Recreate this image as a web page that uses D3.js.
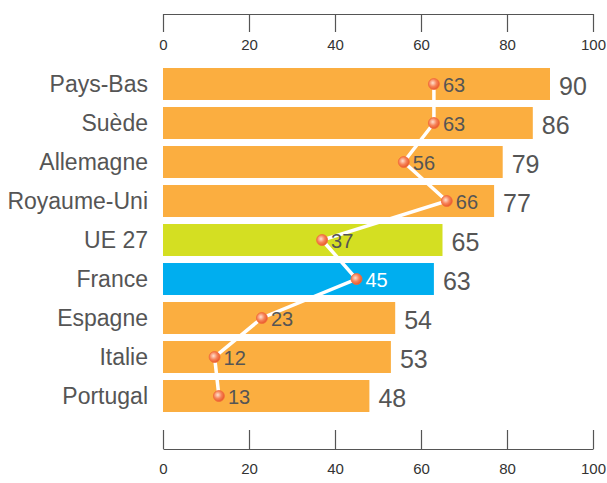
<!DOCTYPE html>
<html>
<head>
<meta charset="utf-8">
<script src="https://cdn.jsdelivr.net/npm/d3@7"></script>
<style>
  body { margin: 0; background: #fff; }
  text { font-family: "Liberation Sans Narrow", "Liberation Sans", sans-serif; }
</style>
</head>
<body>
<svg id="chart" width="607" height="483"></svg>
<script>
// Data
const countries = ['Pays-Bas', 'Suède', 'Allemagne', 'Royaume-Uni', 'UE 27', 'France', 'Espagne', 'Italie', 'Portugal'];
const barValues = [90, 86, 79, 77, 65, 63, 54, 53, 48];
const lineValues = [63, 63, 56, 66, 37, 45, 23, 12, 13];
const barColors = ['#FBAE40', '#FBAE40', '#FBAE40', '#FBAE40', '#D4DF22', '#00AEEF', '#FBAE40', '#FBAE40', '#FBAE40'];
const ticks = [0, 20, 40, 60, 80, 100];

const svg = d3.select('#chart');

const x = d3.scaleLinear().domain([0, 100]).range([163, 593]);
const y = d3.scaleBand().domain(countries).range([64.5, 415.5])
    .paddingInner(0.18).paddingOuter(0.09);

// gradient for the dots
const grad = svg.append('defs').append('radialGradient')
    .attr('id', 'dot').attr('cx', '40%').attr('cy', '40%').attr('r', '60%');
grad.append('stop').attr('offset', '0%').attr('stop-color', '#FFE2CF');
grad.append('stop').attr('offset', '55%').attr('stop-color', '#F7845A');
grad.append('stop').attr('offset', '100%').attr('stop-color', '#E85A2C');

// axes
const topAxis = svg.append('g').attr('transform', 'translate(0,14)')
    .call(d3.axisBottom(x).tickValues(ticks).tickSize(18).tickPadding(7).tickSizeOuter(0));
const botAxis = svg.append('g').attr('transform', 'translate(0,449)')
    .call(d3.axisTop(x).tickValues(ticks).tickSize(19).tickSizeOuter(0));
botAxis.selectAll('.tick text').attr('y', 14).attr('dy', '0.71em');

[topAxis, botAxis].forEach(a => {
    a.select('.domain').attr('stroke', '#555').attr('stroke-width', 1.2);
    a.selectAll('.tick line').attr('stroke', '#555').attr('stroke-width', 1.2);
    a.selectAll('.tick text')
        .attr('fill', '#333')
        .style('font-size', '15px')
        .style('font-family', '"Liberation Sans", sans-serif');
});

// bars
svg.append('g').selectAll('rect')
    .data(countries)
    .join('rect')
    .attr('x', x(0))
    .attr('y', d => y(d))
    .attr('width', (d, i) => x(barValues[i]) - x(0))
    .attr('height', y.bandwidth())
    .attr('fill', (d, i) => barColors[i]);

// category labels
svg.append('g').selectAll('text')
    .data(countries)
    .join('text')
    .attr('x', 148)
    .attr('y', d => y(d) + y.bandwidth() / 2)
    .attr('dy', '0.35em')
    .attr('text-anchor', 'end')
    .attr('fill', '#555')
    .style('font-size', '23px')
    .text(d => d);

// bar value labels
svg.append('g').selectAll('text')
    .data(countries)
    .join('text')
    .attr('x', (d, i) => x(barValues[i]) + 9)
    .attr('y', d => y(d) + y.bandwidth() / 2 + 2)
    .attr('dy', '0.35em')
    .attr('fill', '#555')
    .style('font-size', '25px')
    .text((d, i) => barValues[i]);

// line
const line = d3.line()
    .x((d, i) => x(lineValues[i]))
    .y(d => y(d) + y.bandwidth() / 2);

svg.append('path')
    .datum(countries)
    .attr('d', line)
    .attr('fill', 'none')
    .attr('stroke', '#fff')
    .attr('stroke-width', 3.5);

svg.append('g').selectAll('circle')
    .data(countries)
    .join('circle')
    .attr('cx', (d, i) => x(lineValues[i]))
    .attr('cy', d => y(d) + y.bandwidth() / 2)
    .attr('r', 5.5)
    .attr('fill', 'url(#dot)')
    .attr('stroke', '#F26B3A')
    .attr('stroke-width', 0.8);

svg.append('g').selectAll('text')
    .data(countries)
    .join('text')
    .attr('x', (d, i) => x(lineValues[i]) + 9)
    .attr('y', d => y(d) + y.bandwidth() / 2 + 1)
    .attr('dy', '0.35em')
    .attr('fill', d => d === 'France' ? '#fff' : '#555')
    .style('font-size', '20px')
    .text((d, i) => lineValues[i]);
</script>
</body>
</html>
